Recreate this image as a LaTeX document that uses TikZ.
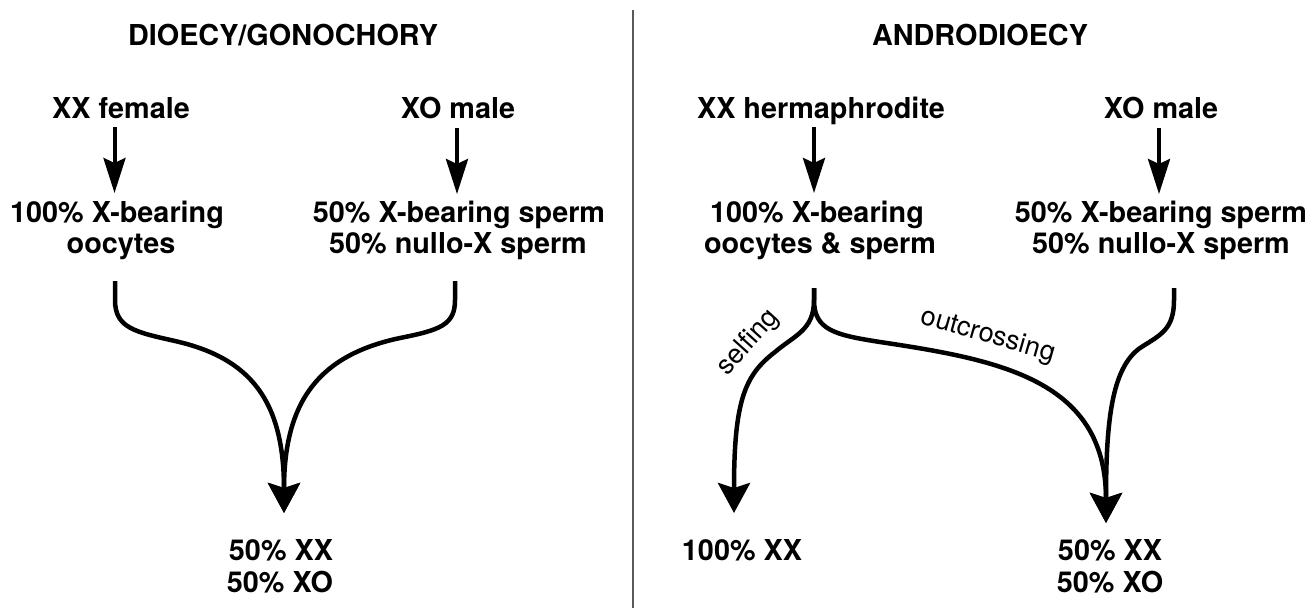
\documentclass[tikz,border=0pt]{standalone}
\usepackage{fontspec}
\setmainfont{TeX Gyre Heros}
\usetikzlibrary{arrows.meta}
\begin{document}
\begin{tikzpicture}[x=1pt,y=-1pt,
  lab/.style={font=\fontsize{28.8}{31}\selectfont\bfseries, inner sep=0pt, anchor=base},
  sub/.style={font=\fontsize{27}{30}\selectfont, inner sep=0pt},
  down/.style={line width=4pt, -{Stealth[length=35pt,width=22pt,inset=5pt]}},
  flow/.style={line width=4.5pt, -{Stealth[length=30pt,width=32pt,inset=5pt]}},
  divider/.style={line width=1.6pt, black!65}
]
\useasboundingbox (0,0) rectangle (1314,608);

% divider
\coordinate (dtop) at (632.7,10);
\coordinate (dbot) at (632.7,608);
\draw[divider] (dtop) -- (dbot);

% headings
\node[lab] (h1) at (283,45) {DIOECY/GONOCHORY};
\node[lab] (h2) at (980,45) {ANDRODIOECY};

% left panel texts
\node[lab] (fem) at (121,118) {XX female};
\node[lab] (male1) at (458,118) {XO male};
\node[lab] (oocA) at (117,222) {100\% X-bearing};
\node[lab] (oocB) at (121,253) {oocytes};
\node[lab] (spA) at (459,222) {50\% X-bearing sperm};
\node[lab] (spB) at (458,253) {50\% nullo-X sperm};
\node[lab] (resA) at (281,560) {50\% XX};
\node[lab] (resB) at (280,592) {50\% XO};

% right panel texts
\node[lab] (herm) at (821,118) {XX hermaphrodite};
\node[lab] (male2) at (1161,118) {XO male};
\node[lab] (hgA) at (817,222) {100\% X-bearing};
\node[lab] (hgB) at (820,253) {oocytes \& sperm};
\node[lab] (sp2A) at (1161,222) {50\% X-bearing sperm};
\node[lab] (sp2B) at (1161,253) {50\% nullo-X sperm};
\node[lab] (selfres) at (742,560) {100\% XX};
\node[lab] (res2A) at (1110,560) {50\% XX};
\node[lab] (res2B) at (1110,592) {50\% XO};

% arrow coordinates
\coordinate (a1s) at (114.5,127); \coordinate (a1e) at (114.5,193);
\coordinate (a2s) at (457,128);   \coordinate (a2e) at (457,194);
\coordinate (a3s) at (814,127);   \coordinate (a3e) at (814,193);
\coordinate (a4s) at (1159,128);  \coordinate (a4e) at (1159,194);

\draw[down] (a1s) -- (a1e);
\draw[down] (a2s) -- (a2e);
\draw[down] (a3s) -- (a3e);
\draw[down] (a4s) -- (a4e);

% left merging curves
\coordinate (c1) at (115,281);
\coordinate (c2) at (455,281);
\coordinate (t1) at (284,513);
\draw[flow] (c1) -- (115,300) .. controls (115,328) and (135,332) .. (175,341)
  .. controls (250,358) and (284,400) .. (t1);
\draw[flow] (c2) -- (455,300) .. controls (455,325) and (440,330) .. (400,338)
  .. controls (320,355) and (284,400) .. (t1);

% right panel curves
\coordinate (split) at (814,288);
\coordinate (c3) at (1174,288);
\coordinate (t2) at (734,513);
\coordinate (t3) at (1106,523);
\draw[flow] (split) -- (814,300) .. controls (814,330) and (795,335) .. (775,352)
  .. controls (745,375) and (734,400) .. (t2);
\draw[flow] (split) -- (814,300) .. controls (814,330) and (835,335) .. (880,342)
  .. controls (1000,360) and (1106,380) .. (t3);
\draw[flow] (c3) -- (1174,300) .. controls (1174,330) and (1160,335) .. (1140,348)
  .. controls (1112,368) and (1106,420) .. (t3);

% labels
\node[sub, rotate=48] (selfing) at (748,343) {selfing};
\node[sub, rotate=-16] (outc) at (988,336) {outcrossing};
\end{tikzpicture}
\end{document}
